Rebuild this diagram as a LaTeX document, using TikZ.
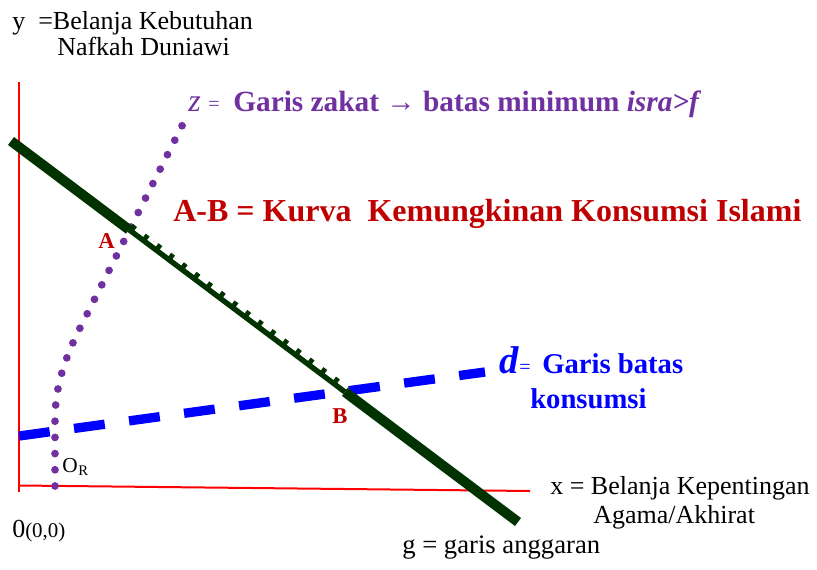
\documentclass[tikz,border=0pt]{standalone}
\usepackage{fontspec}
\setmainfont{Liberation Serif}
\usetikzlibrary{calc}
\definecolor{gline}{RGB}{0,51,0}
\definecolor{zpurple}{RGB}{112,48,160}
\definecolor{abred}{RGB}{192,0,0}
\definecolor{dblue}{RGB}{0,0,255}
\definecolor{axisred}{RGB}{255,0,0}
\newcommand{\fs}[1]{\fontsize{#1}{#1}\selectfont}
\begin{document}
\begin{tikzpicture}[x=0.75pt,y=-0.75pt,
  axisline/.style={draw=axisred,line width=1.5pt},
  budget/.style={draw=gline,line width=7.5pt},
  budgetthin/.style={draw=gline,line width=4pt},
  budgetticks/.style={draw=gline,line width=3.6pt,dash pattern=on 3.6pt off 8.3pt},
  dline/.style={draw=dblue,line width=7pt,dash pattern=on 23.25pt off 18.4pt},
  zline/.style={draw=zpurple,line width=5.8pt,line cap=round,dash pattern=on 0pt off 12.15pt},
  lbl/.style={inner sep=0pt,anchor=base west},
  ]
\useasboundingbox (0,0) rectangle (817,570);
% coordinates
\coordinate (yTop) at (19,82);
\coordinate (yBot) at (19,492);
\coordinate (xL) at (19,485.5);
\coordinate (xR) at (530,491);
\coordinate (gS) at (11,141);
\coordinate (gE) at (518,522);
\coordinate (A) at ($(gS)!0.2327!(gE)$);
\coordinate (B) at ($(gS)!0.6588!(gE)$);
\coordinate (At) at ($(A)+(2.7,-3.6)$);
\coordinate (Bt) at ($(B)+(2.7,-3.6)$);
\coordinate (dS) at (19,436);
\coordinate (dE) at (485,372);
\coordinate (zS) at (55,486);
\coordinate (zK) at (55,420);
\coordinate (zM) at (80,328);
\coordinate (zE) at (189,112);
% axes
\draw[axisline] (yTop) -- (yBot);
\draw[axisline] (xL) -- (xR);
% d line
\draw[dline] (dS) -- (dE);
% z line
\draw[zline] (zS) -- (zK) .. controls (55,385) and (66,356) .. (zM) -- (zE);
% budget line g
\draw[budget] (gS) -- (A);
\draw[budgetthin] (A) -- (B);
\draw[budget] (B) -- (gE);
\draw[budgetticks] (At) -- (Bt);
% texts
\node[lbl] (ylab1) at (12,29.5) {\fs{19.5pt}y\ \ =Belanja Kebutuhan};
\node[lbl] (ylab2) at (57,55.5) {\fs{19.5pt}Nafkah Duniawi};
\node[lbl,text=zpurple] (zz) at (188,112) {\fs{24pt}\textit{z}};
\node[lbl,text=zpurple] (zeq) at (208,111) {\fs{15pt}=};
\node[lbl,text=zpurple] (zlab) at (233,112) {\fs{22pt}\textbf{Garis zakat → batas minimum \textit{isra>f}}};
\node[lbl,text=abred] (ablab) at (173,222) {\fs{24pt}\textbf{A-B = Kurva\ \ Kemungkinan Konsumsi Islami}};
\node[lbl,text=abred] (Alab) at (98,248) {\fs{17pt}\textbf{A}};
\node[lbl,text=abred] (Blab) at (332,423) {\fs{17pt}\textbf{B}};
\node[lbl,text=dblue] (dlab) at (499,373) {\fs{29pt}\textbf{\textit{d}}};
\node[lbl,text=dblue] (deq) at (519,373) {\fs{15pt}=};
\node[lbl,text=dblue] (dlab1) at (542,373) {\fs{21.5pt}\textbf{Garis batas}};
\node[lbl,text=dblue] (dlab2) at (530,408) {\fs{21.5pt}\textbf{konsumsi}};
\node[lbl] (OR) at (62,472) {\fs{16pt}O};
\node[lbl] (ORsub) at (78,475) {\fs{11pt}R};
\node[lbl] (orig) at (12,537) {\fs{19.5pt}0{\fs{15.7pt}(0,0)}};
\node[lbl] (xlab1) at (550,494) {\fs{19.5pt}x = Belanja Kepentingan};
\node[lbl] (xlab2) at (593,523) {\fs{19.5pt}Agama/Akhirat};
\node[lbl] (glab) at (402,553) {\fs{20pt}g = garis anggaran};
\end{tikzpicture}
\end{document}
